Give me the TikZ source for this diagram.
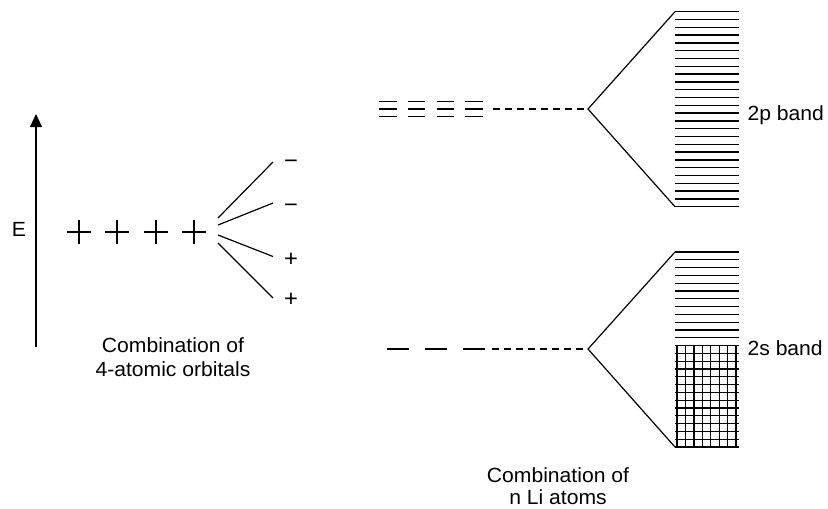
\documentclass[tikz,border=0pt]{standalone}
\usepackage{fontspec}
\setmainfont{Liberation Sans}[FakeStretch=1.03]
\usetikzlibrary{arrows.meta}
\begin{document}
\begin{tikzpicture}[x=1pt,y=-1pt,line width=1.2pt,
  lbl/.style={font=\fontsize{20.5}{24}\selectfont,inner sep=0pt},
  sgn/.style={font=\fontsize{23}{24}\selectfont,inner sep=0pt,anchor=base},
  lvl/.style={line width=1.3pt},
  dashlink/.style={dash pattern=on 7pt off 5pt,line width=1.1pt}]
\useasboundingbox (0,0) rectangle (828,509);

% energy axis
\coordinate (ebot) at (36,347);
\coordinate (etop) at (36,114);
\draw[-{Triangle[width=12pt,length=13pt]}] (ebot) -- (etop);
\node[lbl,anchor=base] (E) at (19,236) {E};

% four atomic orbitals
\foreach \x in {79,117,156,194}{
  \draw (\x-12,232) -- (\x+12,232) (\x,220.3) -- (\x,243.7);
}

% fan of 4 combinations
\coordinate (f1) at (218,218);
\coordinate (f2) at (218,225);
\coordinate (f3) at (218,235);
\coordinate (f4) at (218,243);
\coordinate (g1) at (273,162);
\coordinate (g2) at (273,203);
\coordinate (g3) at (273,256.5);
\coordinate (g4) at (273,298);
\draw (f1) -- (g1);
\draw (f2) -- (g2);
\draw (f3) -- (g3);
\draw (f4) -- (g4);
\node[sgn] (s1) at (291,168) {−};
\node[sgn] (s2) at (291,212) {−};
\node[sgn] (s3) at (291,266) {+};
\node[sgn] (s4) at (291,306) {+};

\node[lbl,anchor=base] (c1) at (173,352.7) {Combination of};
\node[lbl,anchor=base] (c2) at (173,376.7) {4-atomic orbitals};

% 2p levels
\foreach \x in {379.3,407.7,436.7,465}{
  \draw[lvl] (\x,101.7) -- (\x+17.5,101.7)
             (\x,109) -- (\x+17.5,109)
             (\x,116.3) -- (\x+17.5,116.3);
}
\coordinate (pe) at (493,109);
\coordinate (pa) at (588,109);
\coordinate (pt) at (675,11.7);
\coordinate (pb) at (675,206.7);
\draw[dashlink] (pe) -- (pa);
\draw (pt) -- (pa) -- (pb);
\foreach \k in {0,...,25}{
  \draw[lvl] (675,11.7+7.8*\k) -- (739,11.7+7.8*\k);
}
\node[lbl,anchor=base west] (p2) at (747,120) {2p band};

% 2s levels
\foreach \x in {387,425,463}{
  \draw[lvl] (\x,349) -- (\x+22,349);
}
\coordinate (se) at (492,349);
\coordinate (sa) at (588,349);
\coordinate (st) at (675,252);
\coordinate (sb) at (675,447);
\draw[dashlink] (se) -- (sa);
\draw (st) -- (sa) -- (sb);
\foreach \k in {0,...,25}{
  \draw[lvl] (675,252+7.8*\k) -- (739,252+7.8*\k);
}
\foreach \j in {0,...,7}{
  \draw[line width=1.3pt] (677+8.43*\j,345.6) -- (677+8.43*\j,447);
}
\node[lbl,anchor=base west] (s2b) at (747,355.5) {2s band};

\node[lbl,anchor=base] (c3) at (558,482.3) {Combination of};
\node[lbl,anchor=base] (c4) at (558,504) {n Li atoms};
\end{tikzpicture}
\end{document}
